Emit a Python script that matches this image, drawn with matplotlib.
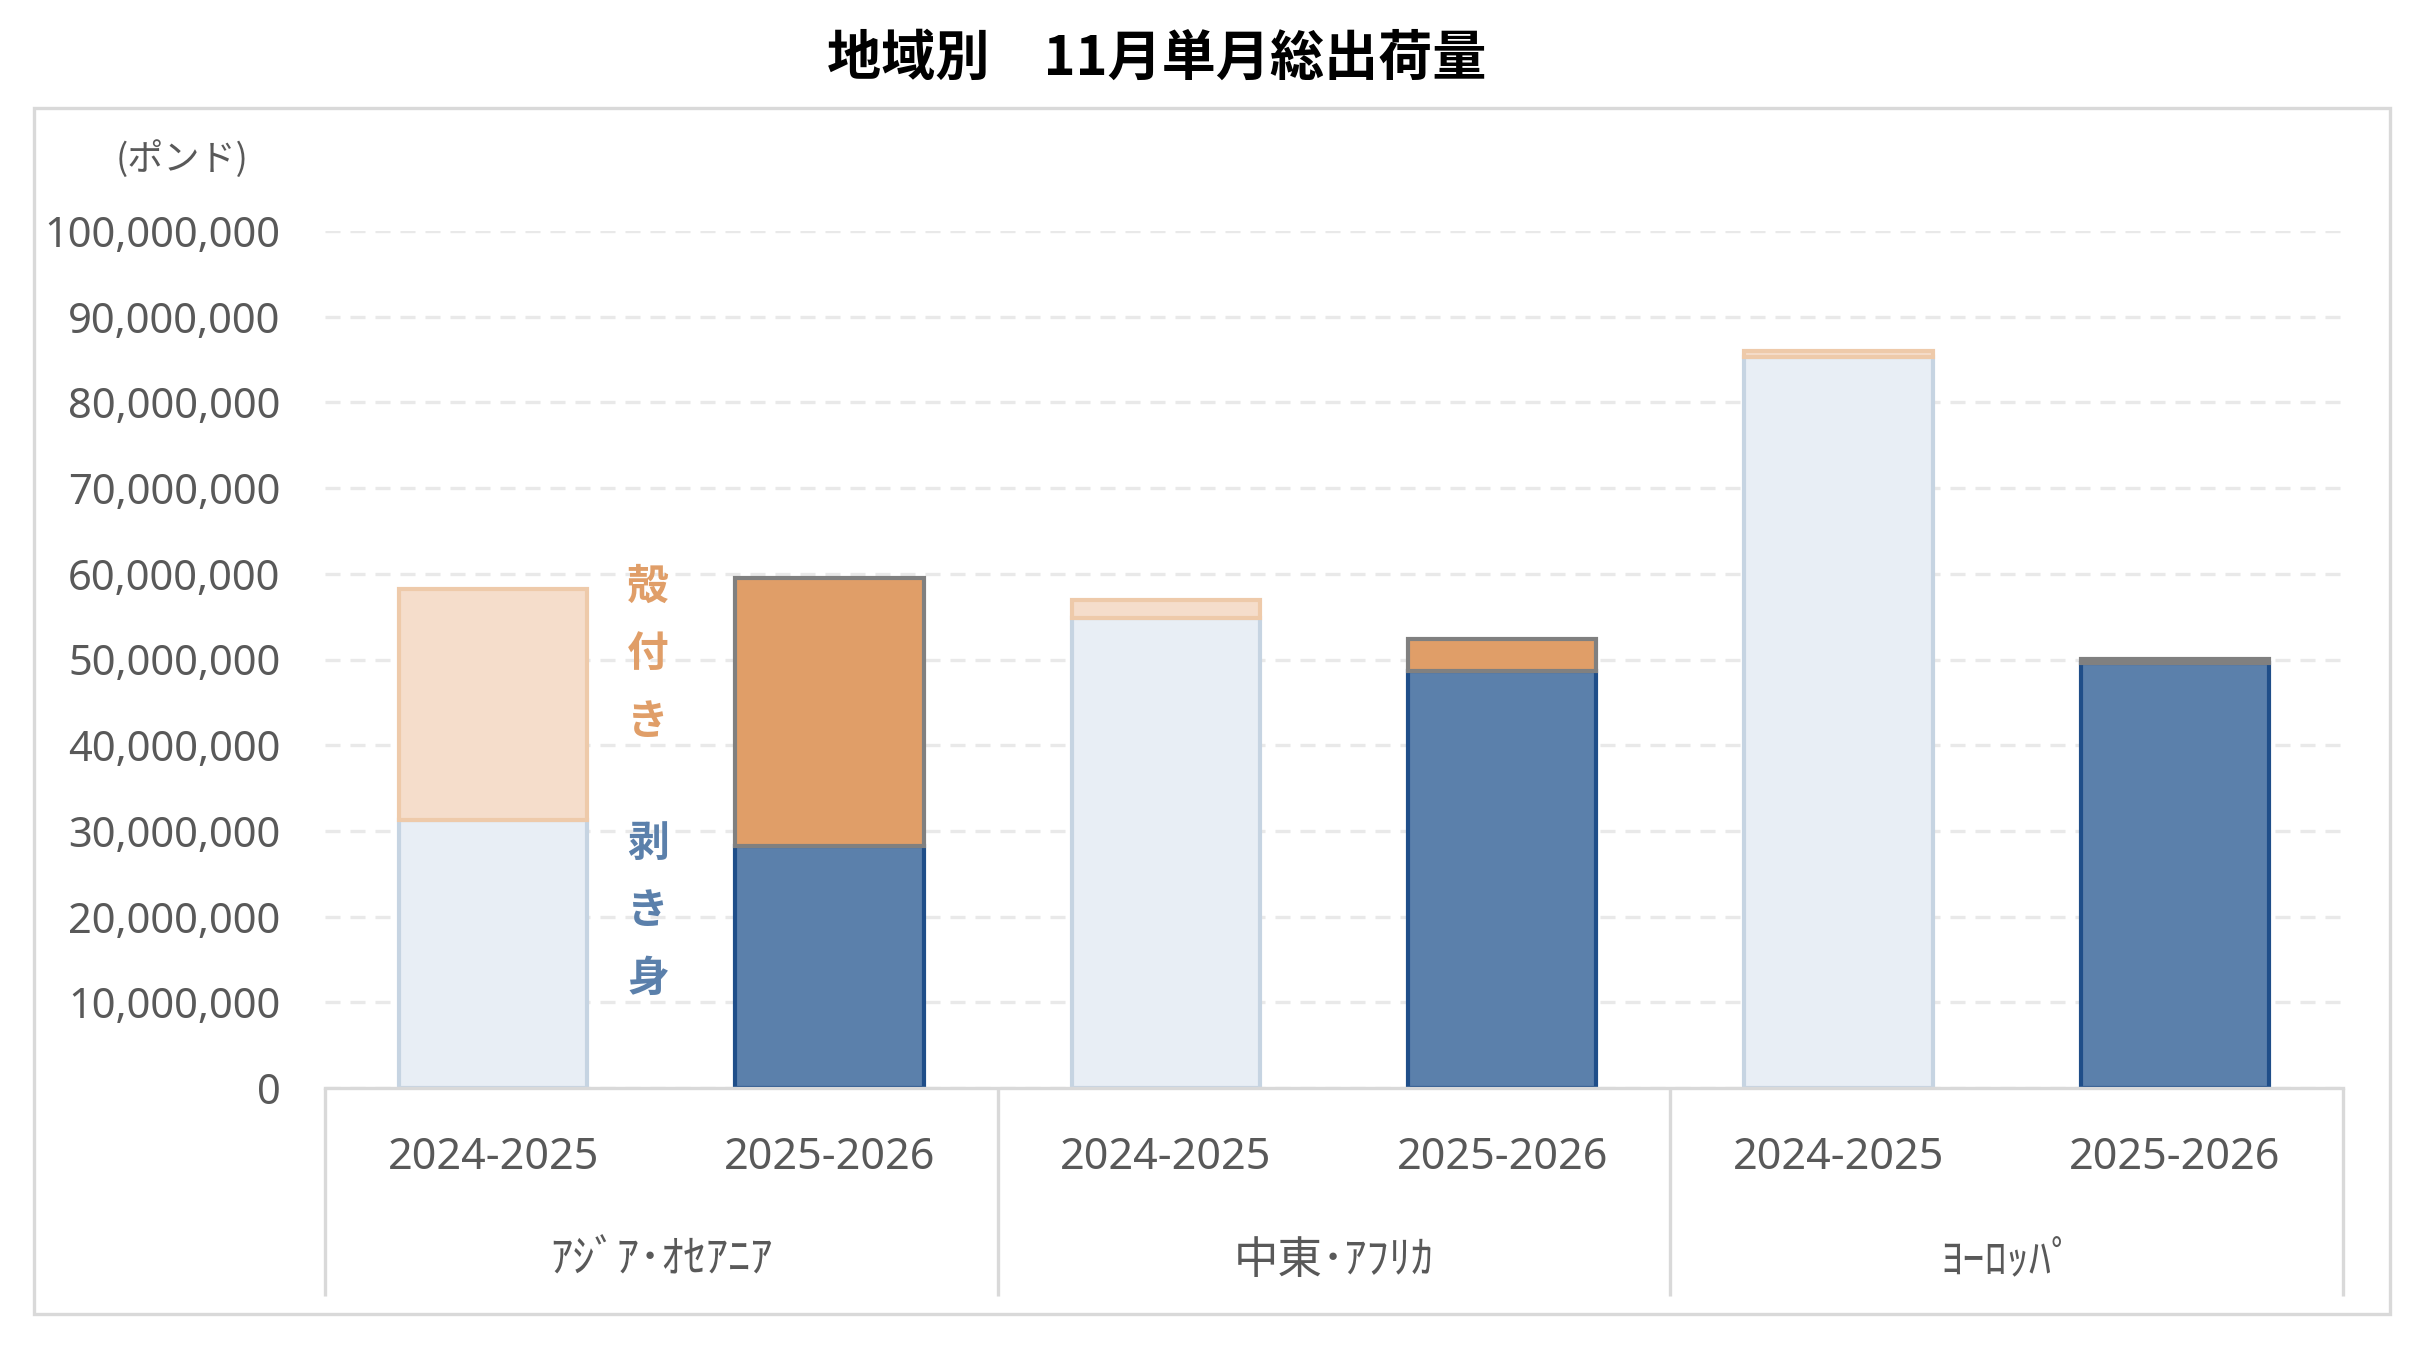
import numpy as np
import matplotlib
matplotlib.use("Agg")
import matplotlib.pyplot as plt
from matplotlib.patches import Rectangle

plt.rcParams['font.family'] = ['Noto Sans CJK JP', 'DejaVu Sans']

# 地域 / 年度
regions = ['ｱｼﾞｱ･ｵｾｱﾆｱ', '中東･ｱﾌﾘｶ', 'ﾖｰﾛｯﾊﾟ']
seasons = ['2024-2025', '2025-2026']

# 11月単月出荷量 (ポンド)
peeled = np.array([31.3, 28.2, 54.8, 48.6, 85.3, 49.6]) * 1e6   # 剥き身
shell = np.array([26.9, 31.3, 2.2, 3.8, 0.7, 0.5]) * 1e6        # 殻付き

yticks = np.arange(0, 100e6 + 1, 10e6)

num_font = ['Noto Sans', 'Noto Sans CJK JP']
gray_txt = '#595959'
line_gray = '#d9d9d9'

peel_fill = ['#e8eef5', '#5b80ab']
peel_edge = ['#c6d4e2', '#1f4e89']
shell_fill = ['#f5ddcb', '#e09e68']
shell_edge = ['#eecaaa', '#808080']

fig = plt.figure(figsize=(24.3, 13.5), dpi=100)
W, H = 2430, 1350
ax = fig.add_axes([325 / W, (H - 1088) / H, (2343 - 325) / W, (1088 - 231) / H])

x = np.arange(len(peeled))
k = x % 2
bw = 0.56
ax.bar(x, peeled, bw, color=[peel_fill[i] for i in k],
       edgecolor=[peel_edge[i] for i in k], linewidth=3, zorder=2)
ax.bar(x, shell, bw, bottom=peeled, color=[shell_fill[i] for i in k],
       edgecolor=[shell_edge[i] for i in k], linewidth=3, zorder=3)

ax.set_xlim(-0.5, len(peeled) - 0.5)
ax.set_ylim(0, 100e6)
ax.set_yticks(yticks)
ax.set_yticklabels([f'{int(v):,}' for v in yticks], family=num_font,
                   fontsize=30, color=gray_txt)
ax.tick_params(axis='y', length=0, pad=32)
ax.set_xticks([])
ax.grid(axis='y', color='#e9e9e9', linewidth=2.4, linestyle=(0, (4.5, 3)))
ax.set_axisbelow(True)
for s in ['top', 'right', 'left']:
    ax.spines[s].set_visible(False)
ax.spines['bottom'].set_color(line_gray)
ax.spines['bottom'].set_linewidth(2.4)

# 軸下の区切り線とラベル
tr = ax.get_xaxis_transform()
h = 1088 - 231
depth = (1296 - 1088) / h
for b in np.arange(-0.5, len(peeled), 2):
    ax.plot([b, b], [0, -depth], transform=tr, color=line_gray, lw=2.4,
            clip_on=False, solid_capstyle='butt')
for i in x:
    ax.text(i, -(1158 - 1088) / h, seasons[i % 2], transform=tr,
            ha='center', va='center', fontsize=31, color=gray_txt, family=num_font)
for g, name in enumerate(regions):
    ax.text(2 * g + 0.5, -(1260 - 1088) / h, name, transform=tr,
            ha='center', va='center', fontsize=32, color=gray_txt)

# 凡例代わりの縦書きラベル
for label, yc, col in [('殻付き', 50.6e6, '#e09e68'), ('剥き身', 20.6e6, '#5b80ab')]:
    for j, ch in enumerate(label):
        ax.text(0.46, yc + (1 - j) * 7.9e6, ch, ha='center', va='center',
                fontsize=30, fontweight='bold', color=col, zorder=4)

fig.text(182 / W, 1 - 159 / H, '(ポンド)', ha='center', va='center',
         fontsize=26, color=gray_txt)
fig.text(1157 / W, 1 - 59 / H, '地域別\u300011月単月総出荷量', ha='center',
         va='center', fontsize=39, fontweight='bold', color='black')

fig.patches.append(Rectangle((34 / W, 36 / H), (2390 - 34) / W, (1314 - 108) / H,
                             transform=fig.transFigure, fill=False,
                             edgecolor=line_gray, linewidth=2.4))

fig.savefig('out.png', dpi=100, facecolor='white')
